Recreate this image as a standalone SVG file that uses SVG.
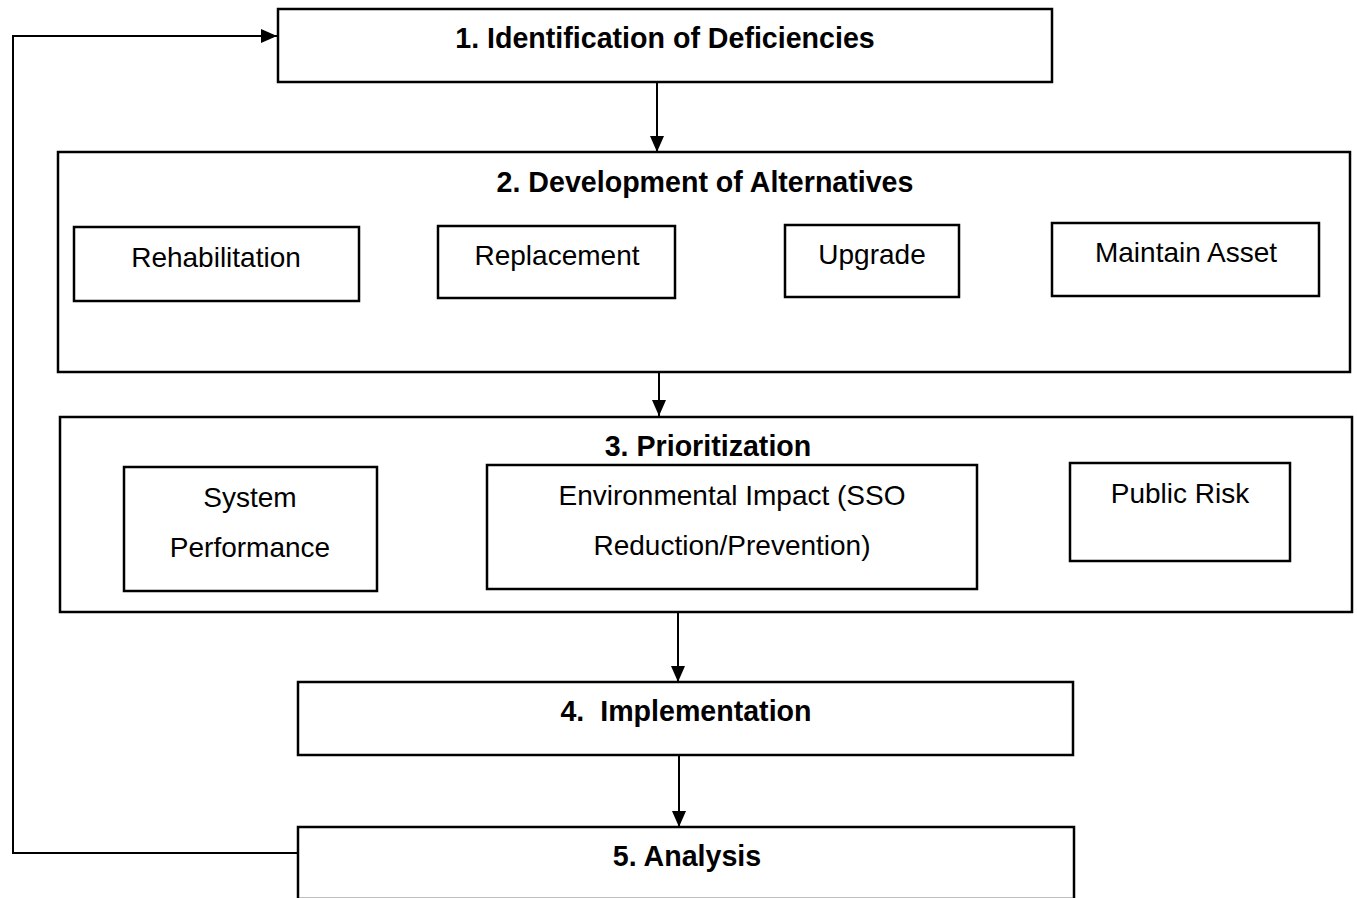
<svg xmlns="http://www.w3.org/2000/svg" width="1357" height="898" viewBox="0 0 1357 898">
<style>
.box{fill:none;stroke:#000;stroke-width:2.5}
.con{fill:none;stroke:#000;stroke-width:2}
.t{font-family:"Liberation Sans",Arial,sans-serif;font-size:28px;fill:#000;text-anchor:middle}
.b{font-weight:bold;font-size:28.6px}
</style>
<defs>
<marker id="ah" markerWidth="16" markerHeight="14" refX="16" refY="7" orient="auto" markerUnits="userSpaceOnUse">
<path d="M0,0 L16,7 L0,14 Z" fill="#000"/>
</marker>
</defs>
<rect width="1357" height="898" fill="#fff"/>
<g id="connectors">
<line class="con" x1="657" y1="83" x2="657" y2="152" marker-end="url(#ah)"/>
<line class="con" x1="659" y1="372" x2="659" y2="416" marker-end="url(#ah)"/>
<line class="con" x1="678" y1="612" x2="678" y2="682" marker-end="url(#ah)"/>
<line class="con" x1="679" y1="755" x2="679" y2="827" marker-end="url(#ah)"/>
<polyline class="con" points="298,853 13,853 13,36 277,36" marker-end="url(#ah)"/>
</g>
<g id="n1">
<rect class="box" x="278" y="9" width="774" height="73"/>
<text class="t b" x="665" y="48">1. Identification of Deficiencies</text>
</g>
<g id="n2">
<rect class="box" x="58" y="152" width="1292" height="220"/>
<text class="t b" x="705" y="192">2. Development of Alternatives</text>
</g>
<g id="n2a">
<rect class="box" x="74" y="227" width="285" height="74"/>
<text class="t" x="216" y="267">Rehabilitation</text>
</g>
<g id="n2b">
<rect class="box" x="438" y="226" width="237" height="72"/>
<text class="t" x="557" y="265">Replacement</text>
</g>
<g id="n2c">
<rect class="box" x="785" y="225" width="174" height="72"/>
<text class="t" x="872" y="264">Upgrade</text>
</g>
<g id="n2d">
<rect class="box" x="1052" y="223" width="267" height="73"/>
<text class="t" x="1186" y="262">Maintain Asset</text>
</g>
<g id="n3">
<rect class="box" x="60" y="417" width="1292" height="195"/>
<text class="t b" x="708" y="456">3. Prioritization</text>
</g>
<g id="n3a">
<rect class="box" x="124" y="467" width="253" height="124"/>
<text class="t" x="250" y="507">System</text>
<text class="t" x="250" y="557">Performance</text>
</g>
<g id="n3b">
<rect class="box" x="487" y="465" width="490" height="124"/>
<text class="t" x="732" y="505">Environmental Impact (SSO</text>
<text class="t" x="732" y="555">Reduction/Prevention)</text>
</g>
<g id="n3c">
<rect class="box" x="1070" y="463" width="220" height="98"/>
<text class="t" x="1180" y="503">Public Risk</text>
</g>
<g id="n4">
<rect class="box" x="298" y="682" width="775" height="73"/>
<text class="t b" x="686" y="721" xml:space="preserve">4.  Implementation</text>
</g>
<g id="n5">
<rect class="box" x="298" y="827" width="776" height="72"/>
<text class="t b" x="687" y="866">5. Analysis</text>
</g>
</svg>
